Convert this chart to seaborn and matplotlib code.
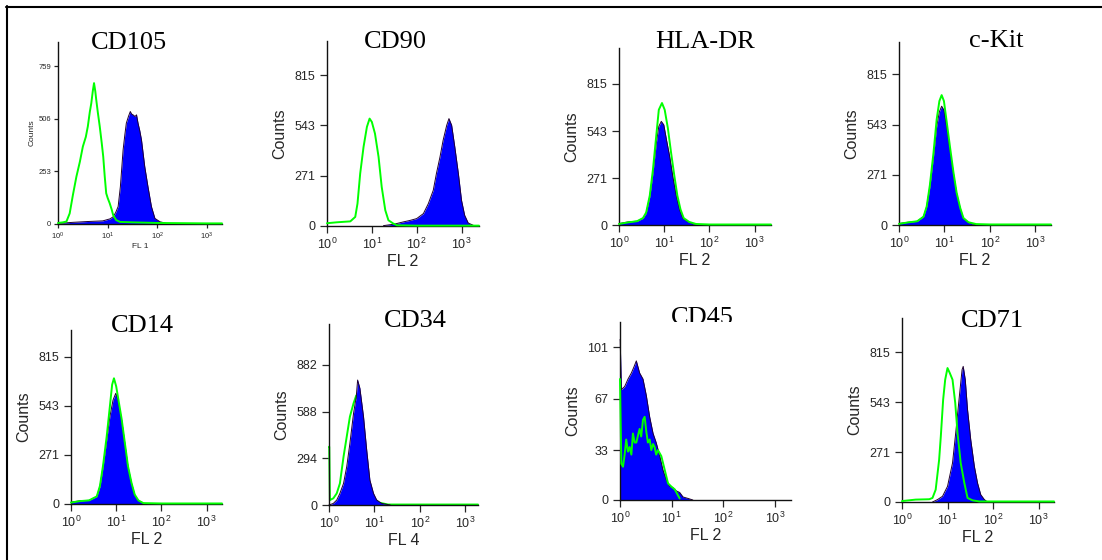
import numpy as np
import matplotlib.pyplot as plt
import seaborn as sns
from matplotlib.lines import Line2D
from matplotlib.patches import Rectangle
from matplotlib.ticker import NullLocator

# marker names, channels and count ticks of the eight histograms
markers = ["CD105", "CD90", "HLA-DR", "c-Kit", "CD14", "CD34", "CD45", "CD71"]
channels = ["FL 1", "FL 2", "FL 2", "FL 2", "FL 2", "FL 4", "FL 2", "FL 2"]
count_ticks = [
    [0, 253, 506, 759], [0, 271, 543, 815], [0, 271, 543, 815], [0, 271, 543, 815],
    [0, 271, 543, 815], [0, 294, 588, 882], [0, 33, 67, 101], [0, 271, 543, 815],
]
count_max = [877, 999, 1023, 989, 962, 1140, 117.7, 1000]
decade_max = [3.30, 3.39, 3.36, 3.35, 3.34, 3.28, 3.31, 3.34]
decade_labels = [r"$\mathregular{10^{0}}$", r"$\mathregular{10^{1}}$",
                 r"$\mathregular{10^{2}}$", r"$\mathregular{10^{3}}$"]

# fluorescence in decades (log10), green = isotype control, blue = stained sample
cd105_iso_log = [0.0, 0.10, 0.17, 0.235, 0.30, 0.37, 0.44, 0.50, 0.56, 0.60, 0.64, 0.67, 0.70,
                 0.725, 0.75, 0.77, 0.80, 0.84, 0.88, 0.91, 0.94, 0.97, 1.00, 1.04, 1.08, 1.11,
                 1.17, 1.25, 1.5, 2.0, 2.5, 3.0, 3.30]
cd105_iso_counts = [5, 8, 12, 51, 140, 228, 300, 373, 420, 470, 540, 582, 640, 679, 640, 598,
                    540, 470, 390, 325, 230, 148, 125, 100, 70, 43, 19, 10, 8, 5, 4, 3, 3]
cd105_log = [0.0, 0.3, 0.6, 0.9, 1.05, 1.11, 1.16, 1.21, 1.255, 1.31, 1.345, 1.375, 1.42, 1.455,
             1.48, 1.51, 1.55, 1.58, 1.61, 1.645, 1.68, 1.745, 1.81, 1.88, 1.95, 2.05, 2.18, 2.3]
cd105_counts = [3, 8, 12, 15, 25, 35, 55, 84, 180, 357, 430, 486, 520, 542, 530, 526, 518, 526,
                486, 450, 405, 277, 180, 84, 27, 11, 3, 0]

cd90_iso_log = [0.0, 0.22, 0.52, 0.63, 0.68, 0.74, 0.815, 0.89, 0.95, 1.0, 1.07, 1.15, 1.22,
                1.30, 1.37, 1.48, 1.56, 2.0, 3.0, 3.39]
cd90_iso_counts = [15, 20, 25, 49, 121, 283, 427, 535, 580, 562, 499, 373, 211, 85, 31, 13, 4,
                   2, 2, 2]
cd90_log = [1.26, 1.5, 1.70, 1.85, 2.0, 2.15, 2.26, 2.37, 2.44, 2.52, 2.59, 2.67, 2.72, 2.78,
            2.85, 2.93, 3.0, 3.07, 3.15, 3.26]
cd90_counts = [2, 10, 22, 30, 40, 67, 121, 193, 283, 373, 463, 544, 580, 544, 427, 283, 139, 58,
               16, 4]

hladr_iso_log = [0.0, 0.2, 0.4, 0.53, 0.60, 0.68, 0.75, 0.825, 0.88, 0.95, 1.01, 1.08, 1.15,
                 1.22, 1.29, 1.36, 1.43, 1.55, 1.7, 2.0, 3.36]
hladr_iso_counts = [6, 15, 22, 40, 72, 170, 320, 520, 666, 705, 666, 560, 420, 290, 170, 90, 40,
                    18, 6, 3, 3]
hladr_log = [0.0, 0.2, 0.4, 0.53, 0.60, 0.68, 0.75, 0.825, 0.88, 0.935, 0.99, 1.05, 1.12, 1.19,
             1.27, 1.34, 1.41, 1.525, 1.64, 1.78]
hladr_counts = [8, 18, 22, 39, 68, 164, 299, 473, 570, 599, 579, 492, 396, 280, 164, 87, 39, 19,
                6, 0]

ckit_iso_log = [0.0, 0.2, 0.4, 0.54, 0.61, 0.68, 0.76, 0.83, 0.89, 0.94, 0.99, 1.05, 1.125, 1.20,
                1.27, 1.35, 1.42, 1.53, 1.7, 2.0, 3.35]
ckit_iso_counts = [6, 14, 20, 45, 100, 215, 390, 570, 670, 702, 670, 560, 420, 285, 175, 92, 38,
                   15, 5, 3, 3]
ckit_log = [0.0, 0.2, 0.4, 0.54, 0.61, 0.68, 0.76, 0.83, 0.89, 0.94, 0.99, 1.05, 1.125, 1.20,
            1.27, 1.35, 1.42, 1.53, 1.64, 1.75]
ckit_counts = [8, 15, 20, 45, 99, 207, 369, 531, 612, 642, 621, 531, 405, 279, 171, 90, 36, 13,
               4, 0]

cd14_iso_log = [0.0, 0.2, 0.4, 0.57, 0.64, 0.71, 0.79, 0.86, 0.91, 0.95, 1.0, 1.05, 1.12, 1.19,
                1.26, 1.34, 1.41, 1.49, 1.6, 2.0, 3.34]
cd14_iso_counts = [8, 16, 20, 42, 100, 215, 375, 540, 660, 695, 650, 575, 470, 340, 210, 115, 52,
                   20, 5, 3, 3]
cd14_log = [0.0, 0.2, 0.4, 0.57, 0.64, 0.71, 0.79, 0.86, 0.93, 0.99, 1.04, 1.12, 1.19, 1.26,
            1.34, 1.41, 1.49, 1.60, 1.7]
cd14_counts = [10, 18, 20, 41, 96, 207, 354, 483, 575, 612, 575, 465, 336, 207, 114, 50, 18, 4, 0]

cd34_iso_log = [0.0, 0.005, 0.02, 0.095, 0.17, 0.24, 0.32, 0.39, 0.46, 0.54, 0.60, 0.66, 0.74,
                0.82, 0.9, 1.0, 1.1, 1.3, 2.0, 3.28]
cd34_iso_counts = [367, 367, 31, 42, 73, 136, 304, 430, 556, 640, 690, 640, 450, 250, 110, 40,
                   15, 3, 3, 3]
cd34_log = [0.0, 0.095, 0.17, 0.24, 0.32, 0.39, 0.46, 0.54, 0.60, 0.63, 0.68, 0.76, 0.83, 0.90,
            0.98, 1.05, 1.16, 1.35]
cd34_counts = [0, 10, 31, 73, 136, 241, 388, 577, 682, 787, 735, 556, 346, 157, 73, 31, 10, 0]

cd45_iso_log = [0.0, 0.026, 0.058, 0.09, 0.12, 0.155, 0.187, 0.22, 0.25, 0.284, 0.316, 0.35,
                0.38, 0.41, 0.445, 0.477, 0.51, 0.54, 0.575, 0.606, 0.64, 0.67, 0.70, 0.735,
                0.80, 0.865, 0.93, 0.99, 1.06, 1.155]
cd45_iso_counts = [80, 24, 22, 30, 40, 32, 35, 30, 44, 38, 38, 43, 47, 42, 53, 55, 45, 38, 40,
                   33, 37, 35, 30, 33, 29, 20, 11, 9, 7, 1]
cd45_log = [0.0, 0.004, 0.026, 0.09, 0.155, 0.22, 0.27, 0.316, 0.38, 0.445, 0.51, 0.574, 0.64,
            0.70, 0.77, 0.83, 0.90, 0.96, 1.03, 1.09, 1.155, 1.22, 1.32, 1.41]
cd45_counts = [106, 106, 73, 75, 80, 84, 88, 92, 84, 80, 69, 55, 44, 38, 29, 20, 13, 9, 8, 6, 5,
               2, 1, 0]

cd71_iso_log = [0.0, 0.3, 0.6, 0.67, 0.74, 0.816, 0.853, 0.904, 0.949, 1.0, 1.05, 1.11, 1.17,
                1.22, 1.29, 1.37, 1.44, 1.55, 1.70, 2.5, 3.34]
cd71_iso_counts = [5, 13, 15, 22, 67, 230, 357, 556, 665, 728, 701, 665, 538, 375, 212, 103, 22,
                   9, 3, 3, 3]
cd71_log = [0.67, 0.78, 0.89, 1.0, 1.11, 1.18, 1.26, 1.32, 1.345, 1.39, 1.44, 1.51, 1.59, 1.66,
            1.73, 1.81, 1.88]
cd71_counts = [0, 13, 31, 85, 212, 375, 574, 719, 737, 665, 502, 339, 194, 103, 40, 13, 0]

isotype = [(cd105_iso_log, cd105_iso_counts), (cd90_iso_log, cd90_iso_counts),
           (hladr_iso_log, hladr_iso_counts), (ckit_iso_log, ckit_iso_counts),
           (cd14_iso_log, cd14_iso_counts), (cd34_iso_log, cd34_iso_counts),
           (cd45_iso_log, cd45_iso_counts), (cd71_iso_log, cd71_iso_counts)]
stained = [(cd105_log, cd105_counts), (cd90_log, cd90_counts), (hladr_log, hladr_counts),
           (ckit_log, ckit_counts), (cd14_log, cd14_counts), (cd34_log, cd34_counts),
           (cd45_log, cd45_counts), (cd71_log, cd71_counts)]

# layout in pixels: axes left, right, zero line, top ; title centre
W, H = 1102, 560
boxes = [(58, 222, 224, 42), (327, 479, 226, 41), (619, 771, 225, 48), (899, 1051, 225, 42),
         (71, 222, 504, 330), (329, 478, 505, 324), (620, 791, 500, 322), (902, 1054, 502, 318)]
title_pos = [(129, 43), (395, 42), (705, 42), (996, 41),
             (142, 326), (415, 321), (702, 318), (992, 321)]

sns.set_style("ticks")
plt.rcParams["font.family"] = ["Liberation Sans Narrow", "Liberation Sans", "DejaVu Sans"]
plt.rcParams["mathtext.fontset"] = "custom"
plt.rcParams["mathtext.rm"] = "Liberation Sans Narrow"

fig = plt.figure(figsize=(W / 100, H / 100), dpi=100)

for i, name in enumerate(markers):
    x0, x1, y0, yt = boxes[i]
    ax = fig.add_axes([x0 / W, 1 - y0 / H, (x1 - x0) / W, (y0 - yt) / H])
    ax.set_facecolor("white")
    small = i == 0
    fs = 5.5 if small else 9
    lfs = 6 if small else 11.5

    blog, bcnt = stained[i]
    glog, gcnt = isotype[i]
    bx = 10 ** np.array(blog)
    gx = 10 ** np.array(glog)
    green_z = 1 if name == "CD34" else 3

    ax.fill_between(bx, bcnt, 0, color="#0000ff", lw=0, zorder=2)
    sns.lineplot(x=bx, y=bcnt, ax=ax, color="#200030", lw=0.7, zorder=2.5,
                 estimator=None, clip_on=False)
    sns.lineplot(x=gx, y=gcnt, ax=ax, color="#00ff00", lw=1.4, zorder=green_z,
                 estimator=None, clip_on=False)

    ax.set_xscale("log")
    ax.set_xlim(1, 10 ** decade_max[i])
    ax.set_ylim(0, count_max[i])
    ax.set_xticks([1, 10, 100, 1000])
    ax.set_xticklabels(decade_labels)
    ax.xaxis.set_minor_locator(NullLocator())
    ax.set_yticks(count_ticks[i])
    ax.set_yticklabels([str(t) for t in count_ticks[i]])
    ax.tick_params(direction="out", length=3 if small else 5, width=0.9, labelsize=fs)
    ax.tick_params(axis="y", pad=2.0 if small else 3.5)
    ax.tick_params(axis="x", pad=2.0 if small else 3.0)
    ax.set_xlabel(channels[i], fontsize=lfs, labelpad=0.5 if small else 1)
    ax.set_ylabel("Counts", fontsize=lfs, labelpad=2 if small else 5,
                  family=["Liberation Sans", "DejaVu Sans"])
    sns.despine(ax=ax)
    for s in ["left", "bottom"]:
        ax.spines[s].set_linewidth(1.0)
        ax.spines[s].set_color("#111111")

    cx, cy = title_pos[i]
    fig.text(cx / W, 1 - cy / H, name, ha="center", va="center",
             family="Liberation Serif", size=19, color="black")

# CD45 title is cut off by the panel below it
fig.add_artist(Rectangle((648 / W, 1 - 336 / H), 112 / W, 14 / H, transform=fig.transFigure,
                         facecolor="white", edgecolor="none", zorder=5))

# frame of the composite figure
fig.add_artist(Line2D([7 / W, 7 / W], [0, 1 - 6 / H], transform=fig.transFigure,
                      color="black", lw=1.5))
fig.add_artist(Line2D([6 / W, 1], [1 - 7 / H, 1 - 7 / H], transform=fig.transFigure,
                      color="black", lw=1.5))

fig.savefig("out.png", dpi=100)
